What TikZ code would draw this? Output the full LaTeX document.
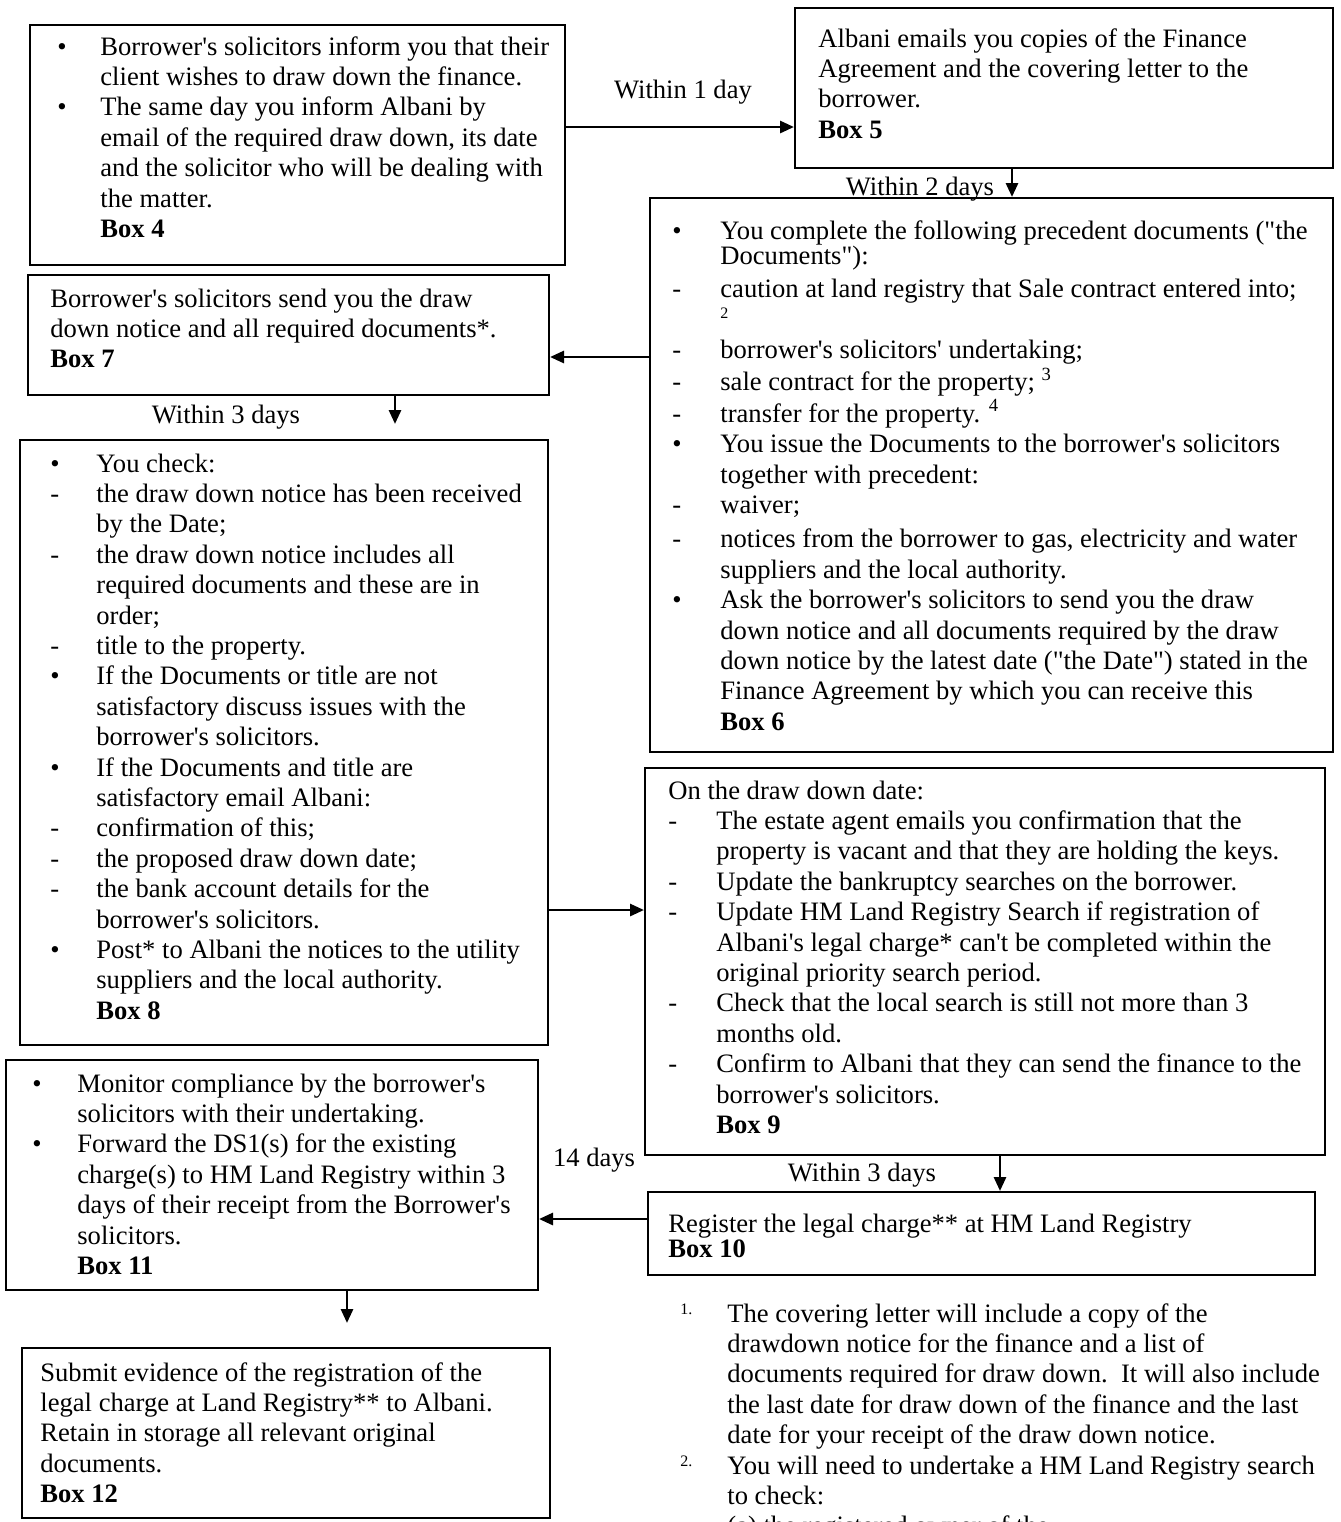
\documentclass[tikz,border=0pt]{standalone}
\usepackage{fontspec}
\setmainfont{Liberation Serif}[Ligatures=TeXOff]
\usetikzlibrary{arrows.meta,fit}
\newcommand{\bodyfont}{\fontsize{13.3pt}{15.2pt}\selectfont}
\newcommand{\lst}[2]{\begin{tabular}[t]{@{}p{#1}@{}l@{}}#2\end{tabular}}
\newcommand{\plainlines}[1]{\begin{tabular}[t]{@{}l@{}}#1\end{tabular}}
\newcommand{\bx}[1]{\textbf{Box #1}}
\newcommand{\fnum}[1]{\raisebox{4pt}{\fontsize{8pt}{9pt}\selectfont #1}}
\begin{document}
\begin{tikzpicture}[x=0.5pt,y=-0.5pt,
  box/.style={draw, line width=1pt, inner sep=0pt},
  txt/.style={inner sep=0pt, anchor=base west, font=\bodyfont, align=left},
  lbl/.style={inner sep=0pt, font=\bodyfont},
  arr/.style={line width=1.4pt, -{Triangle[length=7pt,width=6pt]}}]
\useasboundingbox[fill=white] (0,0) rectangle (1340,1522);

% boxes
\node[box, fit={(30,25)(565,265)}] (b4) {};
\node[box, fit={(795,8)(1333,168)}] (b5) {};
\node[box, fit={(650,198)(1333,752)}] (b6) {};
\node[box, fit={(28,275)(549,395)}] (b7) {};
\node[box, fit={(20,440)(548,1045)}] (b8) {};
\node[box, fit={(645,768)(1325,1155)}] (b9) {};
\node[box, fit={(648,1192)(1315,1275)}] (b10) {};
\node[box, fit={(6,1060)(538,1290)}] (b11) {};
\node[box, fit={(22,1348)(550,1518)}] (b12) {};

% texts
\node[txt] (t4) at (57,55) {\lst{21.5pt}{%
• & Borrower's solicitors inform you that their\\
  & client wishes to draw down the finance.\\
• & The same day you inform Albani by\\
  & email of the required draw down, its date\\
  & and the solicitor who will be dealing with\\
  & the matter.\\
  & \bx{4}}};

\node[txt] (t5) at (818,47) {\plainlines{%
Albani emails you copies of the Finance\\
Agreement and the covering letter to the\\
borrower.\\
\bx{5}}};

\node[txt] (t6) at (672,239) {\lst{24pt}{%
• & You complete the following precedent documents ("the\\[-2.5pt]
  & Documents"):\\[1.5pt]
- & caution at land registry that Sale contract entered into;\\[-5pt]
  & {\fontsize{8pt}{9pt}\selectfont 2}\\[5pt]
- & borrower's solicitors' undertaking;\\
- & sale contract for the property; \textsuperscript{3}\\
- & transfer for the property. \textsuperscript{4}\\
• & You issue the Documents to the borrower's solicitors\\
  & together with precedent:\\
- & waiver;\\[2pt]
- & notices from the borrower to gas, electricity and water\\
  & suppliers and the local authority.\\
• & Ask the borrower's solicitors to send you the draw\\
  & down notice and all documents required by the draw\\
  & down notice by the latest date ("the Date") stated in the\\
  & Finance Agreement by which you can receive this\\
  & \bx{6}}};

\node[txt] (t7) at (50,307) {\plainlines{%
Borrower's solicitors send you the draw\\
down notice and all required documents*.\\
\bx{7}}};

\node[txt] (t8) at (50,472) {\lst{23pt}{%
• & You check:\\
- & the draw down notice has been received\\
  & by the Date;\\
- & the draw down notice includes all\\
  & required documents and these are in\\
  & order;\\
- & title to the property.\\
• & If the Documents or title are not\\
  & satisfactory discuss issues with the\\
  & borrower's solicitors.\\
• & If the Documents and title are\\
  & satisfactory email Albani:\\
- & confirmation of this;\\
- & the proposed draw down date;\\
- & the bank account details for the\\
  & borrower's solicitors.\\
• & Post* to Albani the notices to the utility\\
  & suppliers and the local authority.\\
  & \bx{8}}};

\node[txt] (t9) at (668,799) {\lst{24pt}{%
\multicolumn{2}{@{}l@{}}{On the draw down date:}\\
- & The estate agent emails you confirmation that the\\
  & property is vacant and that they are holding the keys.\\
- & Update the bankruptcy searches on the borrower.\\
- & Update HM Land Registry Search if registration of\\
  & Albani's legal charge* can't be completed within the\\
  & original priority search period.\\
- & Check that the local search is still not more than 3\\
  & months old.\\
- & Confirm to Albani that they can send the finance to the\\
  & borrower's solicitors.\\
  & \bx{9}}};

\node[txt] (t10) at (668,1232) {\plainlines{%
Register the legal charge** at HM Land Registry\\[-2.5pt]
\bx{10}}};

\node[txt] (t11) at (32,1092) {\lst{22.5pt}{%
• & Monitor compliance by the borrower's\\
  & solicitors with their undertaking.\\
• & Forward the DS1(s) for the existing\\
  & charge(s) to HM Land Registry within 3\\
  & days of their receipt from the Borrower's\\
  & solicitors.\\
  & \bx{11}}};

\node[txt] (t12) at (40,1381) {\plainlines{%
Submit evidence of the registration of the\\
legal charge at Land Registry** to Albani.\\
Retain in storage all relevant original\\
documents.\\
\bx{12}}};

\node[txt] (fn) at (680,1322) {\lst{23.5pt}{%
\fnum{1.} & The covering letter will include a copy of the\\
  & drawdown notice for the finance and a list of\\
  & documents required for draw down.\ \ It will also include\\
  & the last date for draw down of the finance and the last\\
  & date for your receipt of the draw down notice.\\
\fnum{2.} & You will need to undertake a HM Land Registry search\\
  & to check:\\
  & (a) the registered owner of the}};

% labels
\node[lbl] (l1) at (683,92) {Within 1 day};
\node[lbl] (l2) at (920,189) {Within 2 days};
\node[lbl] (l3) at (226,417) {Within 3 days};
\node[lbl] (l4) at (862,1175) {Within 3 days};
\node[lbl] (l5) at (594,1160) {14 days};

% helper coordinates
\coordinate (h45) at (0,127);
\coordinate (v56) at (1012,0);
\coordinate (h67) at (0,357);
\coordinate (v78) at (395,0);
\coordinate (h89) at (0,910);
\coordinate (v910) at (1000,0);
\coordinate (h1011) at (0,1219);
\coordinate (v1112) at (347,0);

% connectors
\draw[arr] (b4.east |- h45) -- (b5.west |- h45);
\draw[arr] (b5.south -| v56) -- (b6.north -| v56);
\draw[arr] (b6.west |- h67) -- (b7.east |- h67);
\draw[arr, shorten >=7.5pt] (b7.south -| v78) -- (b8.north -| v78);
\draw[arr] (b8.east |- h89) -- (b9.west |- h89);
\draw[arr] (b9.south -| v910) -- (b10.north -| v910);
\draw[arr] (b10.west |- h1011) -- (b11.east |- h1011);
\draw[arr, shorten >=12pt] (b11.south -| v1112) -- (b12.north -| v1112);
\end{tikzpicture}
\end{document}
